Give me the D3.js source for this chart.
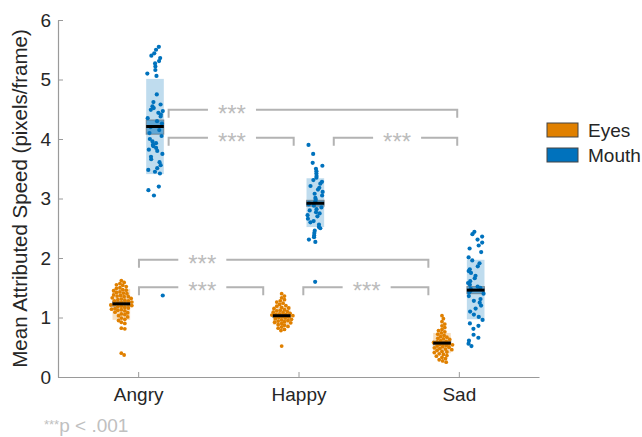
<!DOCTYPE html>
<html>
<head>
<meta charset="utf-8">
<script src="https://cdn.jsdelivr.net/npm/d3@7"></script>
<style>
  body { margin: 0; background: #fff; }
  svg { font-family: "Liberation Sans", Arial, Helvetica, sans-serif; }
</style>
</head>
<body>
<div id="chart"></div>
<script>
var categories = ["Angry", "Happy", "Sad"];
var seriesNames = ["Eyes", "Mouth"];
var yTicks = [0, 1, 2, 3, 4, 5, 6];

// individual points
var eyesAngry = [1.62,1.59,1.57,1.55,1.54,1.52,1.50,1.49,1.47,1.46,1.45,1.43,1.42,1.41,1.40,1.38,1.37,1.36,1.35,1.35,1.33,1.32,1.31,1.30,1.29,1.28,1.28,1.26,1.25,1.24,1.23,1.22,1.22,1.21,1.20,1.19,1.18,1.17,1.16,1.15,1.14,1.13,1.12,1.11,1.09,1.08,1.06,1.05,1.03,1.01,0.99,0.97,0.95,0.92,0.90,0.82,0.81,0.40,0.37];
var eyesHappy = [1.40,1.36,1.33,1.30,1.28,1.26,1.24,1.22,1.20,1.19,1.17,1.16,1.15,1.13,1.12,1.11,1.10,1.09,1.08,1.07,1.06,1.05,1.05,1.04,1.03,1.02,1.01,1.00,0.99,0.98,0.97,0.96,0.95,0.94,0.93,0.92,0.91,0.90,0.88,0.87,0.85,0.84,0.82,0.80,0.78,0.52];
var eyesSad = [1.03,0.98,0.93,0.89,0.86,0.83,0.80,0.78,0.76,0.74,0.72,0.70,0.68,0.67,0.65,0.64,0.63,0.61,0.60,0.59,0.58,0.57,0.56,0.55,0.54,0.53,0.52,0.51,0.50,0.49,0.48,0.47,0.46,0.45,0.43,0.42,0.41,0.39,0.38,0.36,0.35,0.33,0.31,0.29,0.27,0.25];
var mouthAngry = [5.55,5.50,5.44,5.40,5.36,5.31,5.27,5.22,5.16,5.10,5.06,4.75,4.62,4.58,4.55,4.52,4.49,4.47,4.44,4.41,4.38,4.35,4.30,4.26,4.20,4.15,4.10,4.05,4.00,3.96,3.93,3.90,3.88,3.85,3.82,3.80,3.75,3.70,3.66,3.61,3.56,3.51,3.48,3.45,3.42,3.20,3.14,3.05,1.37];
var mouthHappy = [3.90,3.75,3.60,3.55,3.50,3.46,3.42,3.38,3.35,3.31,3.28,3.25,3.21,3.18,3.15,3.11,3.08,3.05,3.01,2.98,2.95,2.92,2.90,2.88,2.85,2.82,2.80,2.77,2.75,2.72,2.70,2.66,2.62,2.60,2.56,2.52,2.50,2.46,2.42,2.38,2.35,2.31,2.27,1.60];
var mouthSad = [2.44,2.40,2.36,2.31,2.26,2.21,2.16,2.10,2.01,1.96,1.91,1.86,1.81,1.78,1.75,1.70,1.66,1.61,1.58,1.55,1.52,1.50,1.48,1.45,1.42,1.40,1.36,1.31,1.28,1.25,1.20,1.15,1.10,1.05,1.01,0.96,0.90,0.86,0.81,0.71,0.66,0.61,0.56,0.52];

// summary boxes: mean line, +/- SD band, SEM band
var eyesMean = [1.23, 1.03, 0.57];
var eyesSdLow = [0.96, 0.88, 0.40];
var eyesSdHigh = [1.48, 1.19, 0.74];
var eyesSemLow = [1.19, 1.00, 0.54];
var eyesSemHigh = [1.27, 1.06, 0.60];
var mouthMean = [4.21, 2.92, 1.46];
var mouthSdLow = [3.41, 2.52, 0.97];
var mouthSdHigh = [5.01, 3.34, 1.97];
var mouthSemLow = [4.08, 2.87, 1.40];
var mouthSemHigh = [4.32, 2.97, 1.52];

// significance brackets (category units on x, speed on y)
var bracketFrom = [1.005, 2.03, 1.005, 1.19, 2.22, 1.19];
var bracketTo = [1.78, 2.81, 2.81, 1.97, 2.99, 2.99];
var bracketY = [1.51, 1.51, 1.97, 4.02, 4.02, 4.49];
var bracketLabel = ["***", "***", "***", "***", "***", "***"];

var colors = {Eyes: "#E08000", Mouth: "#0072BD"};

var width = 642, height = 437;
var x = d3.scaleLinear().domain([0.5, 3.5]).range([58, 539]);
var y = d3.scaleLinear().domain([0, 6]).range([377, 20]);
var offset = 0.105, halfW = 0.055;

var svg = d3.select("#chart").append("svg")
  .attr("width", width)
  .attr("height", height);

var groups = [
  {s: "Eyes", pts: [eyesAngry, eyesHappy, eyesSad], mean: eyesMean, sdL: eyesSdLow, sdH: eyesSdHigh, seL: eyesSemLow, seH: eyesSemHigh, dir: -1, swarm: true, r: 1.9},
  {s: "Mouth", pts: [mouthAngry, mouthHappy, mouthSad], mean: mouthMean, sdL: mouthSdLow, sdH: mouthSdHigh, seL: mouthSemLow, seH: mouthSemHigh, dir: 1, swarm: false, r: 2.1}
];

// simple beeswarm for dense groups, scattered jitter for the others
function layout(vals, swarm, seed) {
  var placed = [];
  return vals.map(function(v, i) {
    var py = y(v), dx = 0;
    if (swarm) {
      for (var k = 0; k < 60; k++) {
        var cand = (k % 2 ? 1 : -1) * Math.ceil(k / 2) * 0.7;
        var ok = placed.every(function(p) {
          return (p[0] - cand) * (p[0] - cand) + (p[1] - py) * (p[1] - py) >= 3.2 * 3.2;
        });
        if (ok) { dx = cand; break; }
      }
      placed.push([dx, py]);
    } else {
      var h = Math.sin((i + 1) * 12.9898 + seed * 78.233) * 43758.5453;
      dx = ((h - Math.floor(h)) - 0.5) * 16;
    }
    return {v: v, dx: dx};
  });
}

groups.forEach(function(g) {
  var col = colors[g.s];
  categories.forEach(function(c, ci) {
    var cx = ci + 1 + g.dir * offset;
    var x0 = x(cx - halfW), x1 = x(cx + halfW);
    svg.append("rect")
      .attr("x", x0).attr("width", x1 - x0)
      .attr("y", y(g.sdH[ci])).attr("height", y(g.sdL[ci]) - y(g.sdH[ci]))
      .attr("fill", col).attr("fill-opacity", 0.25);
    svg.append("rect")
      .attr("x", x0).attr("width", x1 - x0)
      .attr("y", y(g.seH[ci])).attr("height", y(g.seL[ci]) - y(g.seH[ci]))
      .attr("fill", col).attr("fill-opacity", 0.5)
      .attr("stroke", "#666").attr("stroke-opacity", 0.6).attr("stroke-width", 1);

    svg.selectAll(null)
      .data(layout(g.pts[ci], g.swarm, ci + 1))
      .enter()
      .append("circle")
      .attr("cx", function(d) { return x(cx) + d.dx; })
      .attr("cy", function(d) { return y(d.v); })
      .attr("r", g.r)
      .attr("fill", col);

    svg.append("line")
      .attr("x1", x0).attr("x2", x1)
      .attr("y1", y(g.mean[ci])).attr("y2", y(g.mean[ci]))
      .attr("stroke", "#000").attr("stroke-width", 3);
  });
});

// axes
var xAxis = d3.axisBottom(x).tickValues([1, 2, 3])
  .tickFormat(function(d) { return categories[d - 1]; })
  .tickSizeInner(-5).tickSizeOuter(0).tickPadding(11);
var yAxis = d3.axisLeft(y).tickValues(yTicks).tickFormat(d3.format("d"))
  .tickSizeInner(-5).tickSizeOuter(0).tickPadding(7);

var gx = svg.append("g").attr("transform", "translate(0," + y(0) + ")").call(xAxis);
var gy = svg.append("g").attr("transform", "translate(" + x(0.5) + ",0)").call(yAxis);
[gx, gy].forEach(function(a) {
  a.select(".domain").attr("stroke", "#9a9a9a").attr("stroke-width", 1.2);
  a.selectAll(".tick line").attr("stroke", "#9a9a9a");
  a.selectAll(".tick text").attr("fill", "#262626").style("font-size", "19px");
});

svg.append("text")
  .attr("transform", "translate(27," + y(3) + ") rotate(-90)")
  .attr("text-anchor", "middle")
  .attr("fill", "#262626")
  .style("font-size", "20.5px")
  .text("Mean Attributed Speed (pixels/frame)");

// brackets
var drop = 8, gap = 24;
bracketFrom.forEach(function(f, i) {
  var xa = x(f), xb = x(bracketTo[i]), yy = y(bracketY[i]);
  var xt = x(f + 0.395);
  svg.append("path")
    .attr("d", "M" + xa + "," + (yy + drop) + "V" + yy + "H" + (xt - gap) +
               "M" + (xt + gap) + "," + yy + "H" + xb + "V" + (yy + drop))
    .attr("fill", "none").attr("stroke", "#b3b3b3").attr("stroke-width", 2);
  svg.append("text")
    .attr("x", xt).attr("y", yy + 12)
    .attr("text-anchor", "middle")
    .attr("fill", "#bcbcbc")
    .style("font-size", "24px")
    .text(bracketLabel[i]);
});

// legend
var leg = svg.append("g");
seriesNames.forEach(function(s, i) {
  leg.append("rect")
    .attr("x", 547).attr("y", 123 + i * 25)
    .attr("width", 31).attr("height", 14)
    .attr("fill", colors[s]).attr("stroke", "#444").attr("stroke-width", 1);
  leg.append("text")
    .attr("x", 588).attr("y", 137 + i * 25)
    .attr("fill", "#262626")
    .style("font-size", "19px")
    .text(s);
});

// footnote
var fn = svg.append("text").attr("x", 44).attr("y", 432)
  .attr("fill", "#c0c0c0").style("font-size", "19px");
fn.append("tspan").style("font-size", "13px").attr("dy", -3).text("***");
fn.append("tspan").attr("dy", 3).text("p < .001");
</script>
</body>
</html>
